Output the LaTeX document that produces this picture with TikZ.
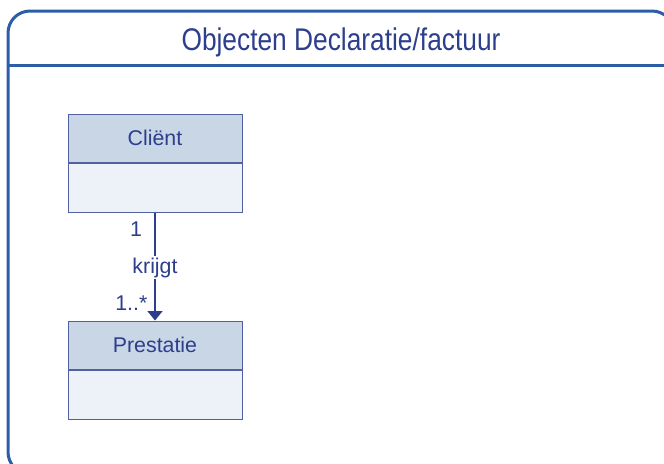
\documentclass[tikz,border=0pt]{standalone}
\usepackage{fontspec}
\setsansfont{Liberation Sans}
\newfontfamily\titelfont[FakeStretch=0.84]{Liberation Sans}
\usepackage{tikz}
\usetikzlibrary{positioning}
\usetikzlibrary{arrows.meta}

\definecolor{kader}{RGB}{43,94,167}
\definecolor{tekst}{RGB}{44,62,140}
\definecolor{rand}{RGB}{82,96,160}
\definecolor{kopvul}{RGB}{200,214,230}
\definecolor{rompvul}{RGB}{237,241,248}

\begin{document}
\begin{tikzpicture}[x=0.75pt,y=0.75pt,yscale=-1,xscale=1,
    kop/.style={draw=rand,line width=0.75pt,fill=kopvul,minimum width=130.5pt,minimum height=36pt,
        inner sep=0pt,text=tekst,font=\sffamily\fontsize{16}{19}\selectfont},
    romp/.style={draw=rand,line width=0.75pt,fill=rompvul,minimum width=130.5pt,minimum height=37pt,inner sep=0pt},
    pijl/.style={draw=tekst,line width=1.5pt,-{Triangle[width=11pt,length=7pt]}},
    label/.style={text=tekst,font=\sffamily\fontsize{16}{19}\selectfont,inner sep=1pt}]
    \useasboundingbox (0,0) rectangle (664,464);
    \clip (0,0) rectangle (664,464);

    % kader
    \draw [color=kader,line width=2.25pt,rounded corners=16.5pt] (8,11) rectangle (674,474);
    \draw [color=kader,line width=2.25pt] (8,65) -- (674,65);
    \node (titel) [anchor=base,text=tekst,inner sep=0pt] at (341,50) {\titelfont\fontsize{23.5}{28}\selectfont Objecten Declaratie/factuur};

    % klassen
    \node (client) [kop] at (155,138) {Cliënt};
    \node (clientromp) [romp,below=0pt of client] {};
    \node (prestatie) [kop] at (155,345) {Prestatie};
    \node (prestatieromp) [romp,below=0pt of prestatie] {};

    % associatie
    \draw [pijl] (clientromp.south) -- (prestatie.north)
        node [label,pos=0.15,left=8pt] {1}
        node [label,pos=0.51,fill=white] {krijgt}
        node [label,pos=0.84,left=4pt] {1..*};
\end{tikzpicture}
\end{document}
